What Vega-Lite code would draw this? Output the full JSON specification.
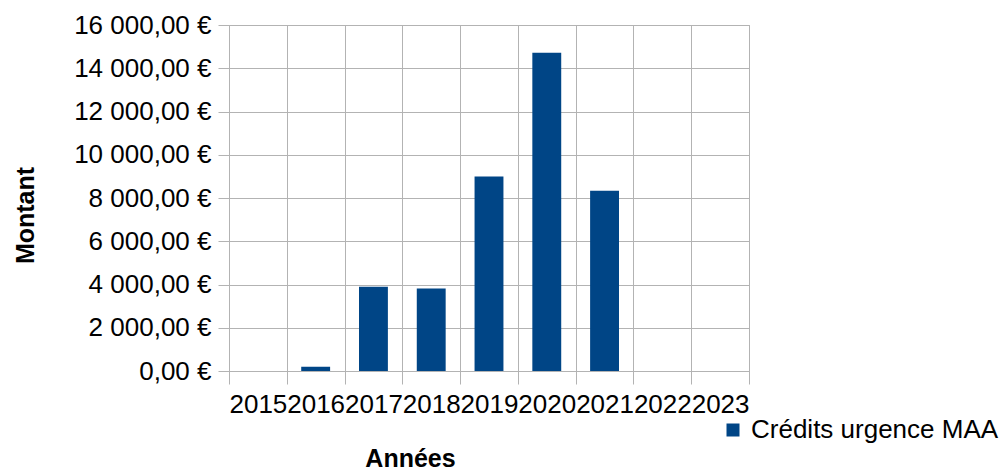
{
  "$schema": "https://vega.github.io/schema/vega-lite/v6.json",
  "width": 520,
  "height": 346,
  "autosize": {"type": "none"},
  "padding": {"left": 229, "top": 25, "right": 252, "bottom": 99},
  "background": "white",
  "config": {
    "font": "Liberation Sans",
    "view": {"stroke": "#b3b3b3"},
    "locale": {
      "number": {
        "decimal": ",",
        "thousands": " ",
        "grouping": [3],
        "currency": ["", " €"]
      }
    }
  },
  "data": {
    "values": [
      {"annee": "2015", "montant": 0, "serie": "Crédits urgence MAA"},
      {"annee": "2016", "montant": 200, "serie": "Crédits urgence MAA"},
      {"annee": "2017", "montant": 3900, "serie": "Crédits urgence MAA"},
      {"annee": "2018", "montant": 3810, "serie": "Crédits urgence MAA"},
      {"annee": "2019", "montant": 8990, "serie": "Crédits urgence MAA"},
      {"annee": "2020", "montant": 14720, "serie": "Crédits urgence MAA"},
      {"annee": "2021", "montant": 8340, "serie": "Crédits urgence MAA"},
      {"annee": "2022", "montant": 0, "serie": "Crédits urgence MAA"},
      {"annee": "2023", "montant": 0, "serie": "Crédits urgence MAA"}
    ]
  },
  "mark": {"type": "bar", "width": {"band": 0.5}},
  "encoding": {
    "x": {
      "field": "annee",
      "type": "ordinal",
      "scale": {"paddingInner": 0, "paddingOuter": 0},
      "axis": {
        "title": "Années",
        "titleFontSize": 25,
        "titleFontWeight": "bold",
        "titleColor": "black",
        "titleAlign": "center",
        "titleBaseline": "alphabetic",
        "titleX": 181,
        "titleY": 95,
        "labelAngle": 0,
        "labelFontSize": 26,
        "labelColor": "black",
        "labelOverlap": false,
        "labelBound": false,
        "labelPadding": 7,
        "tickBand": "extent",
        "tickSize": 13,
        "tickColor": "#b3b3b3",
        "domainColor": "#b3b3b3",
        "grid": true,
        "gridColor": "#b3b3b3",
        "gridOpacity": 1
      }
    },
    "y": {
      "field": "montant",
      "type": "quantitative",
      "scale": {"domain": [0, 16000], "nice": false},
      "axis": {
        "title": "Montant",
        "titleFontSize": 25,
        "titleFontWeight": "bold",
        "titleColor": "black",
        "titleAngle": -90,
        "titleAlign": "center",
        "titleBaseline": "middle",
        "titleX": -204,
        "titleY": 190,
        "values": [0, 2000, 4000, 6000, 8000, 10000, 12000, 14000, 16000],
        "format": "$,.2f",
        "labelFontSize": 26,
        "labelColor": "black",
        "labelPadding": 7,
        "tickSize": 11,
        "tickColor": "#b3b3b3",
        "domainColor": "#b3b3b3",
        "grid": true,
        "gridColor": "#b3b3b3",
        "gridOpacity": 1
      }
    },
    "color": {
      "field": "serie",
      "type": "nominal",
      "scale": {"range": ["#004586"]},
      "legend": {
        "title": null,
        "orient": "none",
        "legendX": 491,
        "legendY": 392,
        "padding": 0,
        "symbolType": "square",
        "symbolSize": 169,
        "symbolStrokeWidth": 0,
        "labelFontSize": 26,
        "labelColor": "black",
        "labelOffset": 5,
        "labelLimit": 400
      }
    }
  }
}
